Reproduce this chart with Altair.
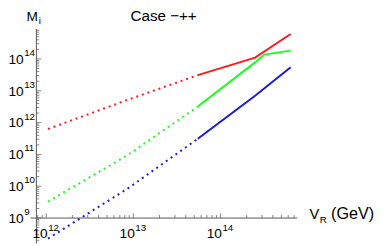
import altair as alt
import pandas as pd

# ---- data (V_R in GeV, M_i) ----
red_dot_vr = [1.05e12, 8.6e12, 5.5e13]
red_dot_m = [6.3e11, 5.2e12, 3.1e13]
red_sol_vr = [5.5e13, 2.5e14, 6.4e14]
red_sol_m = [3.1e13, 1.1e14, 6.1e14]

green_dot_vr = [1.05e12, 8.6e12, 5.5e13]
green_dot_m = [3.3e9, 9.5e10, 3.2e12]
green_sol_vr = [5.5e13, 2.5e14, 3.2e14, 6.4e14]
green_sol_m = [3.2e12, 7.8e13, 1.37e14, 1.83e14]

blue_dot_vr = [1.05e12, 8.6e12, 5.5e13]
blue_dot_m = [2.26e8, 8.4e9, 3.1e11]
blue_sol_vr = [5.5e13, 2.5e14, 6.4e14]
blue_sol_m = [3.1e11, 7.0e12, 5.5e13]

x_major = [1e12, 1e13, 1e14]
x_exp = ["12", "13", "14"]
y_major = [1e9, 1e10, 1e11, 1e12, 1e13, 1e14]
y_exp = ["9", "10", "11", "12", "13", "14"]

series = ["red", "green", "blue"]
colors = ["#ff1a1a", "#1aff1a", "#1a1ad9"]

rows = []
for name, dvr, dm, svr, sm in [
    ("red", red_dot_vr, red_dot_m, red_sol_vr, red_sol_m),
    ("green", green_dot_vr, green_dot_m, green_sol_vr, green_sol_m),
    ("blue", blue_dot_vr, blue_dot_m, blue_sol_vr, blue_sol_m),
]:
    for i, (a, b) in enumerate(zip(dvr, dm)):
        rows.append({"s": name, "part": "dot", "o": i, "vr": a, "m": b})
    for i, (a, b) in enumerate(zip(svr, sm)):
        rows.append({"s": name, "part": "sol", "o": i, "vr": a, "m": b})
df = pd.DataFrame(rows)

# ---- scales ----
XD = [10 ** 11.5618, 10 ** 15.8202]
YD = [10 ** 8.2, 10 ** 15.523]
xs = alt.Scale(type="log", domain=XD, nice=False)
ys = alt.Scale(type="log", domain=YD, nice=False)
cs = alt.Scale(domain=series, range=colors)

X_AXIS = 10 ** 11.8876
Y_AXIS = 1e9
AX = "#555555"

X = lambda f: alt.X(f, type="quantitative", scale=xs, axis=None)
Y = lambda f: alt.Y(f, type="quantitative", scale=ys, axis=None)

dotted = alt.Chart(df[df.part == "dot"]).mark_line(
    strokeWidth=2, strokeDash=[2, 4]
).encode(x=X("vr"), y=Y("m"), color=alt.Color("s:N", scale=cs, legend=None), order="o:Q")

solid = alt.Chart(df[df.part == "sol"]).mark_line(strokeWidth=2).encode(
    x=X("vr"), y=Y("m"), color=alt.Color("s:N", scale=cs, legend=None), order="o:Q"
)

axes_df = pd.DataFrame(
    {
        "x": [X_AXIS, 10 ** 11.82],
        "x2": [X_AXIS, 10 ** 14.88],
        "y": [10 ** 14.94, Y_AXIS],
        "y2": [10 ** 8.2, Y_AXIS],
    }
)
axes = alt.Chart(axes_df).mark_rule(color=AX, strokeWidth=1).encode(
    x=X("x"), x2="x2", y=Y("y"), y2="y2"
)

# ticks
xmin_t = [m * 10 ** k for k in (11, 12, 13, 14) for m in range(2, 10)]
xmin_t = [v for v in xmin_t if 10 ** 11.9 < v < 10 ** 14.88]
ymin_t = [m * 10 ** k for k in range(8, 15) for m in range(2, 10)]
ymin_t = [v for v in ymin_t if 10 ** 8.2 < v < 10 ** 14.94]

def xticks(vals, size):
    return alt.Chart(pd.DataFrame({"v": vals, "y": [Y_AXIS] * len(vals)})).mark_tick(
        orient="vertical", size=size, thickness=1, color=AX, yOffset=-size / 2
    ).encode(x=X("v"), y=Y("y"))

def yticks(vals, size):
    return alt.Chart(pd.DataFrame({"v": vals, "x": [X_AXIS] * len(vals)})).mark_tick(
        orient="horizontal", size=size, thickness=1, color=AX, xOffset=size / 2
    ).encode(y=Y("v"), x=X("x"))

ticks = [xticks(x_major, 5), xticks(xmin_t, 3), yticks(y_major, 5), yticks(ymin_t, 3)]

FONT = "Liberation Sans"
xl = pd.DataFrame({"v": x_major, "e": x_exp})
yl = pd.DataFrame({"v": y_major, "e": y_exp})

x_ten = alt.Chart(xl).mark_text(font=FONT, fontSize=14, align="right", baseline="alphabetic", dx=1.5, color="black").encode(
    x=X("v"), y=alt.value(232), text=alt.value("10"))
x_sup = alt.Chart(xl).mark_text(font=FONT, fontSize=10, align="left", baseline="alphabetic", dx=2, color="black").encode(
    x=X("v"), y=alt.value(225), text="e:N")
y_ten = alt.Chart(yl).mark_text(font=FONT, fontSize=14, align="left", baseline="alphabetic", dy=5, color="black").encode(
    y=Y("v"), x=alt.value(0.5), text=alt.value("10"))
y_sup = alt.Chart(yl).mark_text(font=FONT, fontSize=10, align="left", baseline="alphabetic", dy=-3, color="black").encode(
    y=Y("v"), x=alt.value(16.5), text="e:N")

one = pd.DataFrame({"a": [0]})
def label(txt, x, y, size, align="left"):
    return alt.Chart(one).mark_text(font=FONT, fontSize=size, align=align, baseline="alphabetic", color="black").encode(
        x=alt.value(x), y=alt.value(y), text=alt.value(txt))

titles = [
    label("M", 19, 10.5, 14),
    label("i", 31.5, 14, 10),
    label("Case \u2212++", 159, 11, 15.5, "center"),
    label("V", 308, 213, 15),
    label("R", 318.5, 217, 10),
    label("(GeV)", 330, 213, 16.5),
]

chart = alt.layer(
    axes, *ticks, dotted, solid, x_ten, x_sup, y_ten, y_sup, *titles
).properties(width=379, height=238, padding=0, autosize=alt.AutoSizeParams(type="none")).configure_view(stroke=None)

chart.save("out.html", embed_options={"renderer": "svg", "actions": False})
